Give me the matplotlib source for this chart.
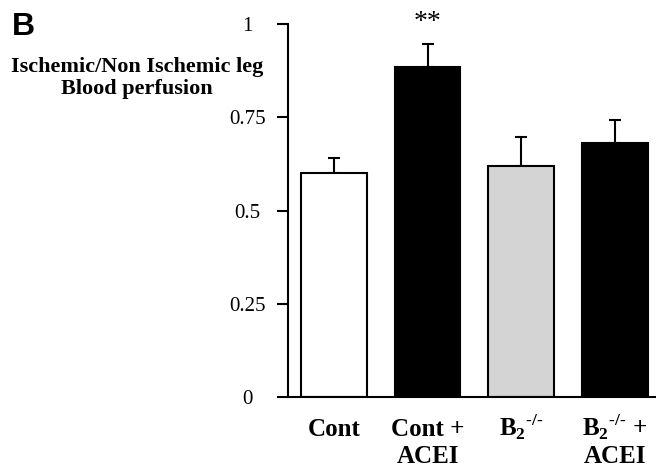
import matplotlib.pyplot as plt
import numpy as np

label_line1 = ['Cont', 'Cont +', r'B$_\mathbf{2}$$^{\text{-/-}}$', r'B$_\mathbf{2}$$^{\text{-/-}}$ +']
label_line2 = ['', 'ACEI', '', 'ACEI']
means = [0.60, 0.885, 0.618, 0.68]
errs = [0.04, 0.062, 0.08, 0.062]
colors = ['white', 'black', '#d4d4d4', 'black']
yticks = [0, 0.25, 0.5, 0.75, 1]
ytick_labels = ['0', '0.25', '0.5', '0.75', '1']

plt.rcParams['mathtext.fontset'] = 'custom'
plt.rcParams['mathtext.rm'] = 'Liberation Serif:bold'
plt.rcParams['mathtext.bf'] = 'Liberation Serif:bold'

fig = plt.figure(figsize=(6.56, 4.69), dpi=100)
ax = fig.add_axes([0.439, 0.1535, 0.561, 0.7953])

x = np.arange(len(means))
ax.bar(x, means, width=0.7, color=colors, edgecolor='black', linewidth=1.5, zorder=2)
ax.errorbar(x, means, yerr=[np.zeros(len(errs)), errs], fmt='none', ecolor='black',
            elinewidth=1.5, capsize=4, capthick=1.5, zorder=1)

ax.set_xlim(-0.49, 3.44)
ax.set_ylim(0, 1)
ax.set_yticks(yticks)
ax.set_yticklabels(ytick_labels, family='Liberation Serif', fontsize=15, ha='center')
ax.tick_params(axis='y', length=8, width=1.5, pad=21)
ax.set_xticks([])

# category labels, two lines, placed under each bar
trans = ax.get_xaxis_transform()
for xi, l1, l2 in zip(x, label_line1, label_line2):
    ax.text(xi, -0.105, l1, transform=trans, ha='center', va='baseline',
            family='Liberation Serif', fontsize=18, fontweight='bold', clip_on=False)
    if l2:
        ax.text(xi, -0.178, l2, transform=trans, ha='center', va='baseline',
                family='Liberation Serif', fontsize=18, fontweight='bold', clip_on=False)

for s in ['top', 'right']:
    ax.spines[s].set_visible(False)
ax.spines['left'].set_linewidth(1.5)
ax.spines['bottom'].set_linewidth(1.5)

ax.text(1, 1.005, '**', ha='center', va='center', family='Liberation Serif', fontsize=20, clip_on=False)

fig.text(0.209, 0.834, 'Ischemic/Non Ischemic leg\nBlood perfusion', ha='center', va='center',
         family='Liberation Serif', fontsize=16, fontweight='bold', linespacing=1.15)
fig.text(0.018, 0.925, 'B', ha='left', va='baseline', family='Liberation Sans', fontsize=23, fontweight='bold')

fig.savefig('out.png', dpi=100)
